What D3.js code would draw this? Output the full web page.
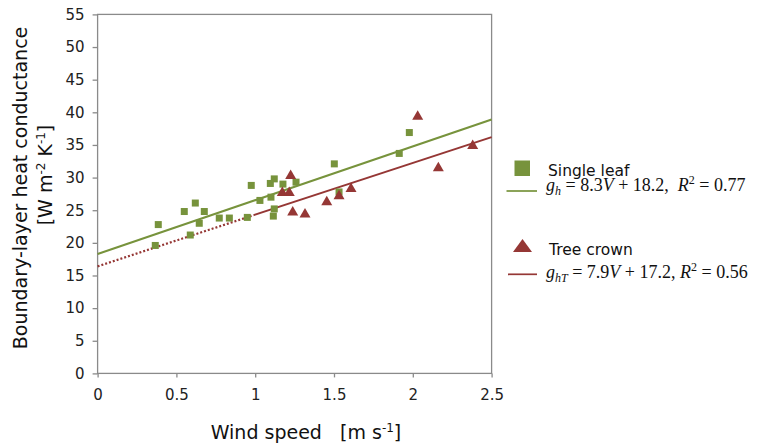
<!DOCTYPE html>
<html>
<head>
<meta charset="utf-8">
<script src="https://cdn.jsdelivr.net/npm/d3@7"></script>
<style>
    body { margin: 0; background: #fff; }
    svg { display: block; }
    .tickText { font-family: "DejaVu Sans", sans-serif; font-size: 15px; fill: #222; }
    .title { font-family: "DejaVu Sans", sans-serif; font-size: 19px; fill: #111; }
    .legendText { font-family: "DejaVu Sans", sans-serif; font-size: 15.5px; fill: #111; }
    .equation { font-family: "Liberation Serif", serif; font-size: 18px; fill: #111; }
</style>
</head>
<body>
<div id="chart"></div>
<script>
"use strict"

// single leaf: wind speed [m/s], conductance [W m-2 K-1]
let leafSpeed = [0.366, 0.385, 0.550, 0.588, 0.620, 0.645, 0.677, 0.772, 0.836, 0.950, 0.975, 1.030,
    1.096, 1.100, 1.121, 1.121, 1.115, 1.176, 1.259, 1.502, 1.532, 1.914, 1.978];
let leafConductance = [19.6, 22.8, 24.8, 21.2, 26.1, 23.0, 24.8, 23.8, 23.8, 23.9, 28.8, 26.5,
    29.1, 27.0, 29.8, 25.2, 24.1, 29.0, 29.3, 32.1, 27.8, 33.7, 36.9];

// tree crown
let crownSpeed = [1.172, 1.216, 1.225, 1.238, 1.316, 1.454, 1.532, 1.608, 2.031, 2.162, 2.380];
let crownConductance = [27.9, 27.9, 30.5, 24.9, 24.6, 26.5, 27.4, 28.5, 39.6, 31.7, 35.1];

// trend lines as drawn in the figure: conductance at V = 0 and V = 2.5
let leafLine = [18.3, 38.9];
let crownLine = [16.4, 36.2];
let crownSolidFrom = 0.99;   // dotted extrapolation below this speed

// legend equations
let leafEquation = { sub: "h", slope: "8.3", intercept: "18.2", r2: "0.77" };
let crownEquation = { sub: "hT", slope: "7.9", intercept: "17.2", r2: "0.56" };

let xTicks = [0, 0.5, 1, 1.5, 2, 2.5];
let xTickLabels = ["0", "0.5", "1", "1.5", "2", "2.5"];
let yTicks = [0, 5, 10, 15, 20, 25, 30, 35, 40, 45, 50, 55];

let GREEN = "#77933c";
let RED = "#953735";
let GRAY = "#8a8a8a";

let width = 766, height = 444;

let svg = d3.select("#chart").append("svg")
    .attr("width", width)
    .attr("height", height);

let x = d3.scaleLinear().domain([0, 2.5]).range([97.6, 491.6]);
let y = d3.scaleLinear().domain([0, 55]).range([373.4, 14.4]);

// plot frame
svg.append("rect")
    .attr("x", x(0))
    .attr("y", y(55))
    .attr("width", x(2.5) - x(0))
    .attr("height", y(0) - y(55))
    .style("fill", "none")
    .style("stroke", GRAY)
    .style("stroke-width", 1.3);

// axes
let xAxis = svg.append("g")
    .attr("transform", "translate(0," + y(0) + ")")
    .call(d3.axisBottom(x)
        .tickValues(xTicks)
        .tickFormat((d, i) => xTickLabels[i])
        .tickSize(4)
        .tickSizeOuter(0)
        .tickPadding(12));

let yAxis = svg.append("g")
    .attr("transform", "translate(" + x(0) + ",0)")
    .call(d3.axisLeft(y)
        .tickValues(yTicks)
        .tickSize(5)
        .tickSizeOuter(0)
        .tickPadding(8));

for (let axis of [xAxis, yAxis]) {
    axis.select(".domain").remove();
    axis.selectAll(".tick line").style("stroke", GRAY).style("stroke-width", 1.3);
    axis.selectAll(".tick text")
        .attr("class", "tickText")
        .attr("font-family", null)
        .attr("font-size", null)
        .attr("fill", null);
}

// trend lines
let lineY = d3.scaleLinear().domain([0, 2.5]);

lineY.range(leafLine);
svg.append("line")
    .attr("x1", x(0))
    .attr("y1", y(lineY(0)))
    .attr("x2", x(2.5))
    .attr("y2", y(lineY(2.5)))
    .style("stroke", GREEN)
    .style("stroke-width", 2);

lineY.range(crownLine);
svg.append("line")
    .attr("x1", x(0))
    .attr("y1", y(lineY(0)))
    .attr("x2", x(crownSolidFrom))
    .attr("y2", y(lineY(crownSolidFrom)))
    .style("stroke", RED)
    .style("stroke-width", 2.2)
    .style("stroke-dasharray", "2,2");

svg.append("line")
    .attr("x1", x(crownSolidFrom))
    .attr("y1", y(lineY(crownSolidFrom)))
    .attr("x2", x(2.5))
    .attr("y2", y(lineY(2.5)))
    .style("stroke", RED)
    .style("stroke-width", 2);

// markers
let sq = 7;
svg.append("g").selectAll("rect")
    .data(d3.range(leafSpeed.length))
    .join("rect")
    .attr("x", i => x(leafSpeed[i]) - sq / 2)
    .attr("y", i => y(leafConductance[i]) - sq / 2)
    .attr("width", sq)
    .attr("height", sq)
    .style("fill", GREEN);

function trianglePath(cx, cy, w, h) {
    return "M " + cx + " " + (cy - h / 2) + " L " + (cx + w / 2) + " " + (cy + h / 2) +
        " L " + (cx - w / 2) + " " + (cy + h / 2) + " Z";
}

svg.append("g").selectAll("path")
    .data(d3.range(crownSpeed.length))
    .join("path")
    .attr("d", i => trianglePath(x(crownSpeed[i]), y(crownConductance[i]), 11, 9.5))
    .style("fill", RED);

// axis titles
let xTitle = svg.append("text")
    .attr("class", "title")
    .attr("x", 306)
    .attr("y", 439)
    .style("text-anchor", "middle");
xTitle.append("tspan").text("Wind speed\u00a0\u00a0\u00a0[m s");
xTitle.append("tspan").attr("dy", -7).style("font-size", "12px").text("-1");
xTitle.append("tspan").attr("dy", 7).text("]");

svg.append("text")
    .attr("class", "title")
    .attr("transform", "translate(27,188) rotate(-90)")
    .style("text-anchor", "middle")
    .text("Boundary-layer heat conductance");

let yTitle2 = svg.append("text")
    .attr("class", "title")
    .attr("transform", "translate(52,175) rotate(-90)")
    .style("text-anchor", "middle");
yTitle2.append("tspan").text("[W m");
yTitle2.append("tspan").attr("dy", -7).style("font-size", "12px").text("-2");
yTitle2.append("tspan").attr("dy", 7).text(" K");
yTitle2.append("tspan").attr("dy", -7).style("font-size", "12px").text("-1");
yTitle2.append("tspan").attr("dy", 7).text("]");

// legend
let legend = svg.append("g");

legend.append("rect")
    .attr("x", 514.5)
    .attr("y", 160.5)
    .attr("width", 15.5)
    .attr("height", 15.5)
    .style("fill", GREEN);

legend.append("text")
    .attr("class", "legendText")
    .attr("x", 548)
    .attr("y", 175.5)
    .text("Single leaf");

legend.append("line")
    .attr("x1", 506.5).attr("x2", 537)
    .attr("y1", 191).attr("y2", 191)
    .style("stroke", GREEN)
    .style("stroke-width", 1.7);

function equation(yPos, eq, gap) {
    let t = legend.append("text")
        .attr("class", "equation")
        .attr("x", 546)
        .attr("y", yPos);
    t.append("tspan").style("font-style", "italic").text("g");
    t.append("tspan").style("font-style", "italic").style("font-size", "12px").attr("dy", 4).text(eq.sub);
    t.append("tspan").attr("dy", -4).text("\u00a0= " + eq.slope);
    t.append("tspan").style("font-style", "italic").text("V");
    t.append("tspan").text("\u00a0+ " + eq.intercept + "," + gap);
    t.append("tspan").style("font-style", "italic").text("R");
    t.append("tspan").style("font-size", "12px").attr("dy", -7).text("2");
    t.append("tspan").attr("dy", 7).text("\u00a0= " + eq.r2);
}

equation(190.5, leafEquation, "\u00a0\u00a0");

legend.append("path")
    .attr("d", trianglePath(522.5, 245.5, 19, 13))
    .style("fill", RED);

legend.append("text")
    .attr("class", "legendText")
    .attr("x", 549)
    .attr("y", 254.5)
    .text("Tree crown");

legend.append("line")
    .attr("x1", 508).attr("x2", 537)
    .attr("y1", 274.3).attr("y2", 274.3)
    .style("stroke", RED)
    .style("stroke-width", 1.7);

equation(277.5, crownEquation, "\u00a0");
</script>
</body>
</html>
